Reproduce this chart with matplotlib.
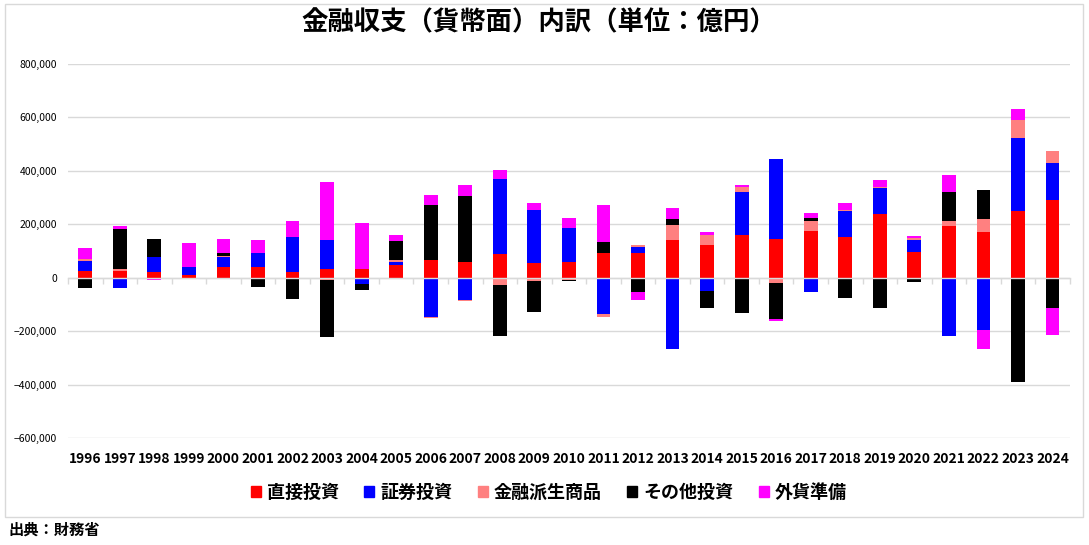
import numpy as np
import matplotlib
matplotlib.use("Agg")
import matplotlib.pyplot as plt
from matplotlib.patches import Patch, Rectangle

plt.rcParams["font.family"] = ["Noto Sans CJK JP", "DejaVu Sans"]

YEARS = [str(y) for y in range(1996, 2025)]

# 単位：億円
direct = [26000, 26000, 22000, 9000, 39000, 39000, 22000, 31000, 34000, 49000,
          67000, 60000, 90000, 56000, 60000, 94000, 94000, 142000, 124000, 161000,
          146000, 173000, 152000, 237000, 95000, 192000, 170000, 249000, 290000]
portfolio = [37000, -40000, 56000, 30000, 37000, 55000, 131000, 112000, -24000, 11000,
             -148000, -82000, 281000, 199000, 127000, -137000, 22000, -266000, -49000, 161000,
             300000, -55000, 96000, 97000, 45000, -220000, -194000, 274000, 139000]
derivatives = [7000, 5000, -2000, 2000, 4000, 0, 0, -7000, -1000, 7000,
               -4000, -4000, -26000, -11000, -8000, -11000, 7000, 56000, 37000, 19000,
               -19000, 38000, 4000, 4000, 7000, 22000, 49000, 67000, 45000]
other = [-40000, 152000, 68000, 0, 14000, -36000, -81000, -216000, -22000, 71000,
         206000, 247000, -191000, -116000, -4000, 41000, -52000, 22000, -64000, -131000,
         -135000, 11000, -77000, -115000, -17000, 105000, 109000, -389000, -115000]
reserves = [41000, 11000, -8000, 90000, 52000, 49000, 60000, 216000, 172000, 22000,
            37000, 41000, 34000, 26000, 37000, 139000, -30000, 41000, 11000, 7000,
            -7000, 20000, 26000, 26000, 11000, 67000, -71000, 41000, -101000]

SERIES = [("直接投資", direct, "#ff0000"),
          ("証券投資", portfolio, "#0000ff"),
          ("金融派生商品", derivatives, "#ff8080"),
          ("その他投資", other, "#000000"),
          ("外貨準備", reserves, "#ff00ff")]

fig = plt.figure(figsize=(10.89, 5.45), dpi=100)
ax = fig.add_axes([0.0624, 0.1963, 0.920, 0.6863])

x = np.arange(len(YEARS))
pos_bottom = np.zeros(len(YEARS))
neg_bottom = np.zeros(len(YEARS))
for name, values, colour in SERIES:
    v = np.array(values, dtype=float)
    bottom = np.where(v >= 0, pos_bottom, neg_bottom)
    ax.bar(x, v, 0.4, bottom=bottom, color=colour, zorder=2)
    pos_bottom += np.where(v >= 0, v, 0)
    neg_bottom += np.where(v < 0, v, 0)

ax.set_xlim(-0.5, len(YEARS) - 0.5)
ax.set_ylim(-600000, 800000)
ax.set_yticks(range(-600000, 800001, 200000))
ax.yaxis.set_major_formatter(matplotlib.ticker.StrMethodFormatter("{x:,.0f}"))
ax.grid(axis="y", color="#d9d9d9", linewidth=1, zorder=0)
ax.set_xticks(x)
ax.set_xticklabels(YEARS, fontsize=10, fontweight="bold")
ax.tick_params(axis="x", length=0, pad=10)
ax.tick_params(axis="y", length=0, pad=8, labelsize=7.5)
for s in ax.spines.values():
    s.set_visible(False)

# 0の軸線と区切り目盛
zero = ax.secondary_xaxis(600000 / 1400000)
zero.set_xticks(np.arange(-0.5, len(YEARS), 1.0))
zero.set_xticklabels([])
zero.tick_params(axis="x", direction="out", length=4, color="#d9d9d9", width=1)
zero.spines["bottom"].set_color("#d9d9d9")
zero.spines["bottom"].set_linewidth(1)
zero.set_zorder(3)

fig.text(0.495, 1 - 23 / 545, "金融収支（貨幣面）内訳（単位：億円）",
         ha="center", va="center", fontsize=19, fontweight="bold")

handles = [Patch(color=c, label=n) for n, _, c in SERIES]
fig.legend(handles=handles, loc="center", bbox_to_anchor=(0.504, 1 - 492 / 545),
           ncol=5, frameon=False, prop={"size": 13, "weight": "bold"},
           handlelength=0.55, handleheight=0.55, handletextpad=0.35, columnspacing=1.4)

fig.text(8 / 1089, 1 - 530 / 545, "出典：財務省", ha="left", va="center",
         fontsize=11, fontweight="bold")

fig.patches.append(Rectangle((5 / 1089, 1 - 517 / 545), 1078 / 1089, 513 / 545,
                             transform=fig.transFigure, fill=False,
                             edgecolor="#d9d9d9", linewidth=1))

fig.savefig("out.png", dpi=100)
